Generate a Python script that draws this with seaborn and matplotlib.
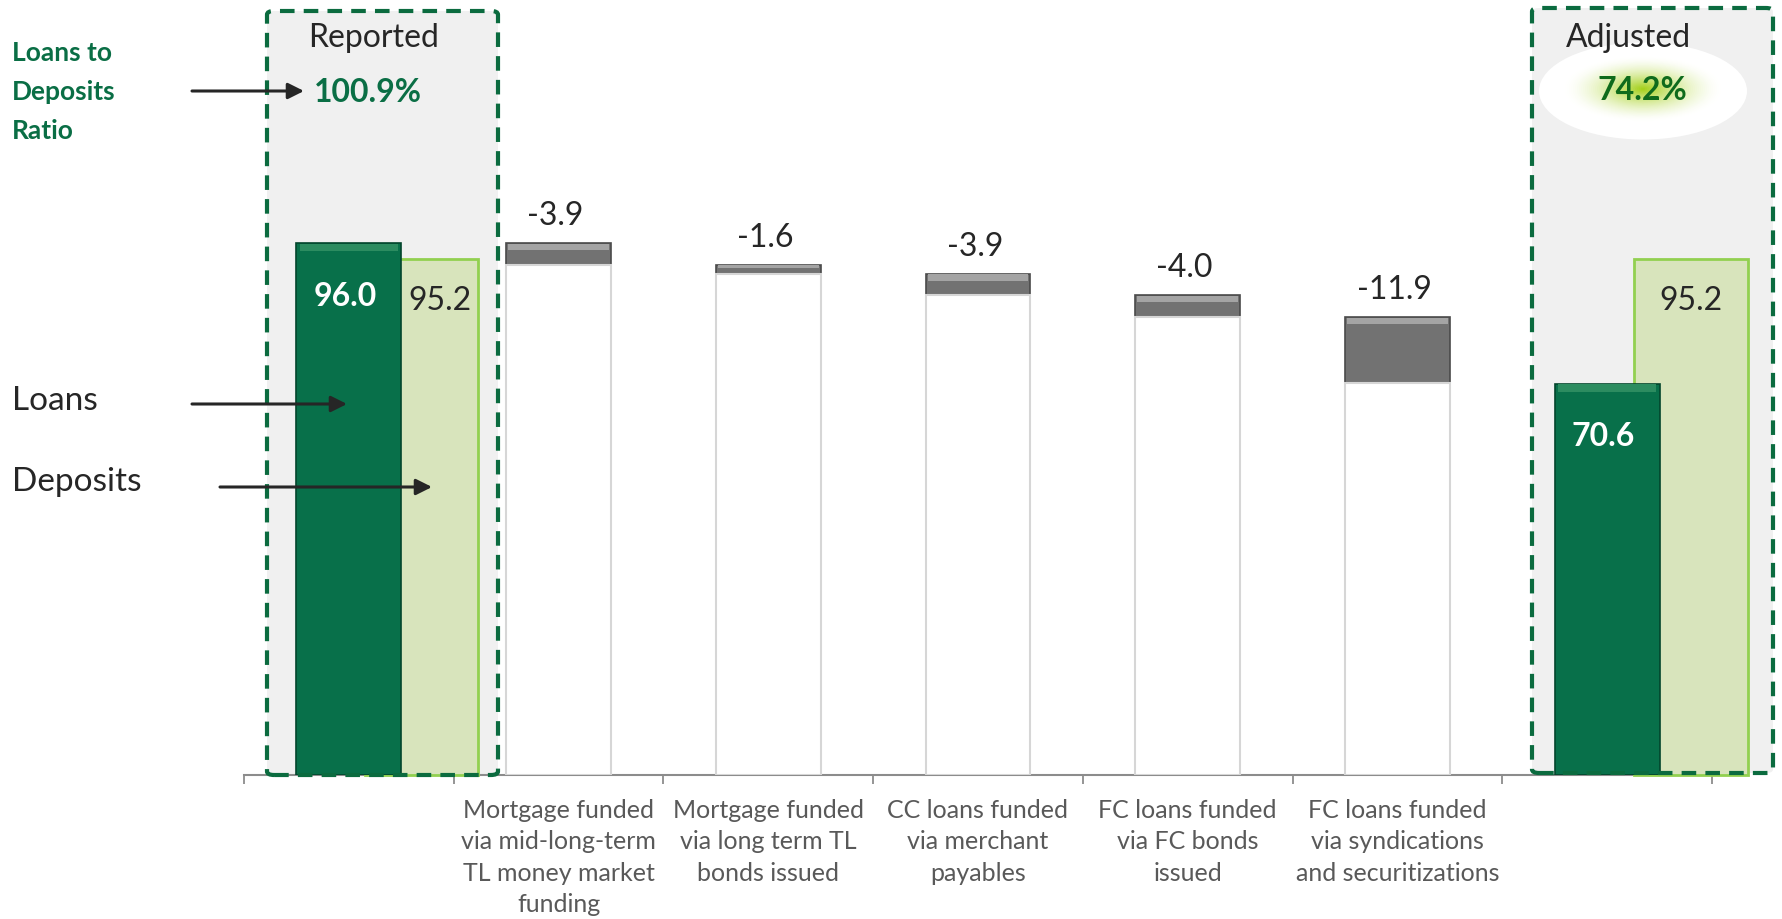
import numpy as np
import pandas as pd
import matplotlib
matplotlib.use("Agg")
import matplotlib.pyplot as plt
import seaborn as sns
from matplotlib.patches import FancyBboxPatch, Ellipse, FancyArrowPatch
from matplotlib.colors import to_rgb

# ---------------- data ----------------
groups = ["Reported", "Adjusted"]
loans = [96.0, 70.6]
deposits = [95.2, 95.2]
ratios = ["100.9%", "74.2%"]
bridge_labels = [
    "Mortgage funded\nvia mid-long-term\nTL money market\nfunding",
    "Mortgage funded\nvia long term TL\nbonds issued",
    "CC loans funded\nvia merchant\npayables",
    "FC loans funded\nvia FC bonds\nissued",
    "FC loans funded\nvia syndications\nand securitizations",
]
bridge_values = [-3.9, -1.6, -3.9, -4.0, -11.9]

# ---------------- style ----------------
sns.set_theme(style="white")
plt.rcParams["font.family"] = ["Lato", "DejaVu Sans"]

DARK = "#08704a"
DARK_EDGE = "#03452c"
LIGHT = "#d8e4bc"
LIGHT_EDGE = "#92d050"
GREY = "#727272"
BOX_GREEN = "#0b6b3f"
TXT_GREEN = "#0a6e45"
INK = "#262626"
AXIS = "#8c8c8c"

W, H = 1783, 919
fig = plt.figure(figsize=(W / 100, H / 100), dpi=100)

def fx(px):
    return px / W

def fy(py):
    return 1 - py / H

# plot area: categories span the full axis line
base_px, top_px = 775, 0
LOAN_SCALE, DEP_SCALE = 5.54, 5.425   # pixels per unit on each value axis
ax_dep = fig.add_axes([fx(244), fy(base_px), fx(1712) - fx(244), fy(top_px) - fy(base_px)])
ax = ax_dep.twinx()
ax_dep.patch.set_visible(False)

cats = groups[:1] + bridge_labels + groups[1:]
ends = [0, len(cats) - 1]
levels = loans[0] + np.cumsum(bridge_values)
tops = np.concatenate([[loans[0]], levels[:-1]])
bridge = pd.DataFrame({"cat": bridge_labels, "top": tops, "bottom": levels})
loan_df = pd.DataFrame({"cat": groups, "value": loans})

# waterfall steps: grey block from previous level down to new level
sns.barplot(data=bridge, x="cat", y="top", order=cats, width=0.5, color=GREY,
            saturation=1, edgecolor="#4a4a4a", linewidth=1.2, errorbar=None,
            ax=ax, zorder=3)
sns.barplot(data=bridge, x="cat", y="bottom", order=cats, width=0.5, color="white",
            saturation=1, edgecolor="#d6d6d6", linewidth=1.5, errorbar=None,
            ax=ax, zorder=4)
# bevel highlight along the top of each grey step
for i, (t, b) in enumerate(zip(tops, levels)):
    h = min(0.35 * (t - b), 1.2)
    ax.bar(i + 1, h, bottom=t - h - 0.08, width=0.48, color="#a4a4a4",
           linewidth=0, zorder=5)

# loans columns
sns.barplot(data=loan_df, x="cat", y="value", order=cats, width=0.5, color=DARK,
            saturation=1, edgecolor=DARK_EDGE, linewidth=1.2, errorbar=None,
            ax=ax, zorder=6)
for xi, v in zip(ends, loans):
    ax.bar(xi, 1.3, bottom=v - 1.4, width=0.47, color="#2c8c60", linewidth=0, zorder=7)

# deposits columns on their own scale, set behind the loans
dep_offsets = [0.345, 0.40]
dep_width = 0.54
dep_x = [e + o for e, o in zip(ends, dep_offsets)]
ax_dep.bar(dep_x, deposits, width=dep_width, color=LIGHT, edgecolor=LIGHT_EDGE,
           linewidth=2, zorder=3, clip_on=False)

ax.set_ylim(0, base_px / LOAN_SCALE)
ax_dep.set_ylim(0, base_px / DEP_SCALE)
ax_dep.set_xlim(-0.5, len(cats) - 0.5)

# value labels
for xi, v in zip(ends, loans):
    ax.annotate(f"{v:.1f}", (xi, v), xytext=(-4, -53), textcoords="offset pixels",
                ha="center", va="center", color="white", fontsize=23,
                fontweight="bold", zorder=10)
for k, (xd, v) in enumerate(zip(dep_x, deposits)):
    left, right = xd - dep_width / 2, xd + dep_width / 2
    # centre the label on the part of the deposits column left uncovered
    label_px = v * DEP_SCALE - 42
    if loans[k] * LOAN_SCALE > label_px:
        left = max(left, ends[k] + 0.25)
    ax_dep.annotate(f"{v:.1f}", ((left + right) / 2, v), xytext=(0, -42),
                    textcoords="offset pixels", ha="center", va="center",
                    color=INK, fontsize=23, zorder=10, annotation_clip=False)
for i, (t, v) in enumerate(zip(tops, bridge_values)):
    ax.annotate(f"{v:.1f}", (i + 1, t), xytext=(-3, 27), textcoords="offset pixels",
                ha="center", va="center", color=INK, fontsize=23, zorder=10)

# axes cosmetics
for a in (ax, ax_dep):
    a.set_yticks([])
    a.set_ylabel("")
    a.set_xlabel("")
for s in ("left", "right", "top"):
    ax_dep.spines[s].set_visible(False)
for s in ax.spines.values():
    s.set_visible(False)
ax_dep.spines["bottom"].set_color(AXIS)
ax_dep.spines["bottom"].set_linewidth(1.5)

ax_dep.set_xticks(range(len(cats)))
ax_dep.set_xticklabels([""] + bridge_labels + [""])
ax_dep.set_xticks(np.arange(-0.5, len(cats), 1.0), minor=True)
ax_dep.tick_params(axis="x", which="major", length=0, pad=17, labelsize=18,
                   labelcolor="#595959", bottom=True)
ax_dep.tick_params(axis="x", which="minor", length=6.5, width=1.3, color=AXIS,
                   direction="out", bottom=True)
for lbl in ax_dep.get_xticklabels():
    lbl.set_linespacing(1.45)
    lbl.set_verticalalignment("top")

# highlighted group frames
for (x0, x1, y0, y1) in [(267, 498, 11, 775), (1532, 1773, 8, 773)]:
    kw = dict(boxstyle="round,pad=0,rounding_size=0.004", transform=fig.transFigure)
    fig.add_artist(FancyBboxPatch((fx(x0), fy(y1)), fx(x1) - fx(x0), fy(y0) - fy(y1),
                                  facecolor="#f0f0f0", edgecolor="none", zorder=-1, **kw))
    fig.add_artist(FancyBboxPatch((fx(x0), fy(y1)), fx(x1) - fx(x0), fy(y0) - fy(y1),
                                  facecolor="none", edgecolor=BOX_GREEN, linewidth=3,
                                  linestyle=(0, (3.5, 2.2)), zorder=20, **kw))

# glow behind the adjusted ratio
fig.add_artist(Ellipse((fx(1643), fy(91)), fx(208), 97 / H, transform=fig.transFigure,
                       facecolor="white", edgecolor="none", zorder=1))
glow = np.array(to_rgb("#a2cf14"))
white = np.ones(3)
n = 40
for k in range(n):
    f = 1 - k / n
    col = white + (glow - white) * (1 - f) ** 1.6
    fig.add_artist(Ellipse((fx(1643), fy(89)), fx(160 * f), 66 * f / H,
                           transform=fig.transFigure, facecolor=col,
                           edgecolor="none", zorder=1.5))

# titles and ratios
fig.text(fx(374), fy(38), groups[0], ha="center", va="center", fontsize=23, color=INK, zorder=30)
fig.text(fx(1628), fy(38), groups[1], ha="center", va="center", fontsize=23, color=INK, zorder=30)
fig.text(fx(368), fy(92), ratios[0], ha="center", va="center", fontsize=23,
         fontweight="bold", color=TXT_GREEN, zorder=30)
fig.text(fx(1642), fy(90), ratios[1], ha="center", va="center", fontsize=23,
         fontweight="bold", color="#0f6b1c", zorder=30)

for t, y in zip(["Loans to", "Deposits", "Ratio"], [53, 92, 131]):
    fig.text(fx(12), fy(y), t, ha="left", va="center", fontsize=19,
             fontweight="bold", color=TXT_GREEN, zorder=30)
fig.text(fx(12), fy(401), "Loans", ha="left", va="center", fontsize=24, color=INK, zorder=30)
fig.text(fx(12), fy(482), "Deposits", ha="left", va="center", fontsize=24, color=INK, zorder=30)

for (x0, x1, y) in [(192, 304, 91), (192, 347, 404), (220, 432, 487)]:
    fig.add_artist(FancyArrowPatch((fx(x0), fy(y)), (fx(x1), fy(y)),
                                   transform=fig.transFigure, arrowstyle="-|>",
                                   mutation_scale=24, linewidth=2.2, color=INK,
                                   shrinkA=0, shrinkB=0, zorder=30))

fig.savefig("out.png", dpi=100)
